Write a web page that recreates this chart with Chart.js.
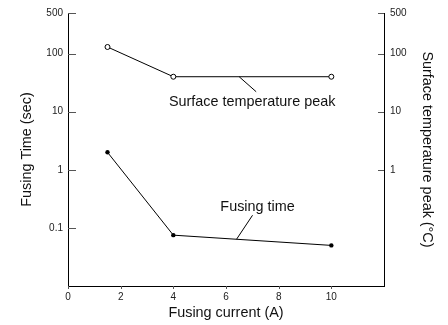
<!DOCTYPE html>
<html>
<head>
<meta charset="utf-8">
<script src="https://cdn.jsdelivr.net/npm/chart.js@4/dist/chart.umd.min.js"></script>
<style>
  html, body { margin: 0; padding: 0; background: #fff; }
  #chart { display: block; }
</style>
</head>
<body>
<canvas id="chart" width="448" height="325"></canvas>
<script>
var currents = [1.5, 4, 10];
var fusingTime = [2, 0.075, 0.05];
var tempPeak = [130, 40, 40];
var leftTicks = [0.1, 1, 10, 100, 500];
var rightTicks = [1, 10, 100, 500];
var xTicks = [0, 2, 4, 6, 8, 10];

var FONT = "'Liberation Sans', Arial, Helvetica, sans-serif";
var TEXT_SIZE = 14.4;

var toPoints = function(xs, ys) {
  return xs.map(function(x, i) { return {x: x, y: ys[i]}; });
};

var setTicks = function(values) {
  return function(scale) {
    scale.ticks = values.map(function(v) { return {value: v}; });
  };
};

var fixSize = function(size) {
  return function(scale) {
    if (scale.isHorizontal()) { scale.height = size; } else { scale.width = size; }
  };
};

var tickLabel = function(v) {
  return String(v);
};

// small inward tick marks, like the original plot
var tickMarks = {
  id: 'tickMarks',
  afterDraw: function(chart) {
    var ctx = chart.ctx, s = chart.scales;
    ctx.save();
    ctx.strokeStyle = '#555';
    ctx.lineWidth = 1;
    ctx.beginPath();
    s.y.ticks.forEach(function(t) {
      var py = Math.round(s.y.getPixelForValue(t.value)) + 0.5;
      ctx.moveTo(s.y.right, py);
      ctx.lineTo(s.y.right + 8, py);
    });
    s.y2.ticks.forEach(function(t) {
      var py = Math.round(s.y2.getPixelForValue(t.value)) + 0.5;
      ctx.moveTo(s.y2.left - 6, py);
      ctx.lineTo(s.y2.left, py);
    });
    s.x.ticks.forEach(function(t) {
      var px = Math.round(s.x.getPixelForValue(t.value)) + 0.5;
      ctx.moveTo(px, s.x.top);
      ctx.lineTo(px, s.x.top + 3);
    });
    ctx.stroke();
    ctx.restore();
  }
};

// text labels with leader lines pointing at the curves
var curveLabels = {
  id: 'curveLabels',
  afterDatasetsDraw: function(chart) {
    var ctx = chart.ctx, x = chart.scales.x, y = chart.scales.y, y2 = chart.scales.y2;
    ctx.save();
    ctx.strokeStyle = '#000';
    ctx.lineWidth = 1;
    ctx.fillStyle = '#111';
    ctx.font = TEXT_SIZE + 'px ' + FONT;
    ctx.textAlign = 'center';
    ctx.textBaseline = 'middle';

    // surface temperature peak
    var ax = x.getPixelForValue(6.5), ay = y2.getPixelForValue(tempPeak[1]);
    ctx.beginPath();
    ctx.moveTo(ax, ay);
    ctx.lineTo(ax + 17, ay + 15);
    ctx.stroke();
    ctx.fillText('Surface temperature peak', ax + 13, ay + 25);

    // fusing time, anchor on the segment between 2nd and 3rd point
    var p1x = x.getPixelForValue(currents[1]), p1y = y.getPixelForValue(fusingTime[1]);
    var p2x = x.getPixelForValue(currents[2]), p2y = y.getPixelForValue(fusingTime[2]);
    var bx = x.getPixelForValue(6.4);
    var by = p1y + (p2y - p1y) * (bx - p1x) / (p2x - p1x);
    ctx.beginPath();
    ctx.moveTo(bx, by);
    ctx.lineTo(bx + 16, by - 24);
    ctx.stroke();
    ctx.fillText('Fusing time', bx + 21, by - 32);
    ctx.restore();
  }
};

var ctx = document.getElementById('chart').getContext('2d');
new Chart(ctx, {
  type: 'line',
  data: {
    datasets: [
      {
        label: 'Surface temperature peak',
        data: toPoints(currents, tempPeak),
        yAxisID: 'y2',
        borderColor: '#000',
        borderWidth: 1,
        pointRadius: 2.5,
        pointBackgroundColor: '#fff',
        pointBorderColor: '#000',
        pointBorderWidth: 1,
        tension: 0
      },
      {
        label: 'Fusing time',
        data: toPoints(currents, fusingTime),
        yAxisID: 'y',
        borderColor: '#000',
        borderWidth: 1,
        pointRadius: 2.2,
        pointBackgroundColor: '#000',
        pointBorderColor: '#000',
        pointBorderWidth: 0,
        tension: 0
      }
    ]
  },
  options: {
    responsive: false,
    animation: false,
    layout: { padding: { top: 13, left: 0, right: 0, bottom: 0 } },
    plugins: { legend: { display: false }, tooltip: { enabled: false } },
    scales: {
      x: {
        type: 'linear',
        min: 0,
        max: 12,
        afterBuildTicks: setTicks(xTicks),
        afterFit: fixSize(39),
        grid: { display: false, drawTicks: false },
        border: { display: true, color: '#000', width: 1 },
        ticks: { color: '#222', padding: 5, font: { family: FONT, size: 10 }, maxRotation: 0, callback: tickLabel },
        title: { display: true, text: 'Fusing current (A)', color: '#111', font: { family: FONT, size: TEXT_SIZE }, padding: { top: 0, bottom: 3 } }
      },
      y: {
        type: 'logarithmic',
        position: 'left',
        min: 0.01,
        max: 500,
        afterBuildTicks: setTicks(leftTicks),
        afterFit: fixSize(68),
        grid: { display: false, drawTicks: false },
        border: { display: true, color: '#000', width: 1 },
        ticks: { color: '#222', padding: 5, font: { family: FONT, size: 10 }, callback: tickLabel },
        title: { display: true, text: 'Fusing Time (sec)', color: '#111', font: { family: FONT, size: TEXT_SIZE }, padding: { top: 18, bottom: 0 } }
      },
      y2: {
        type: 'logarithmic',
        position: 'right',
        min: 0.01,
        max: 500,
        afterBuildTicks: setTicks(rightTicks),
        afterFit: fixSize(64),
        grid: { display: false, drawTicks: false },
        border: { display: true, color: '#000', width: 1 },
        ticks: { color: '#222', padding: 6, font: { family: FONT, size: 10 }, callback: tickLabel },
        title: { display: true, text: 'Surface temperature peak (\u00B0C)', color: '#111', font: { family: FONT, size: TEXT_SIZE }, padding: { top: 12, bottom: 0 } }
      }
    }
  },
  plugins: [tickMarks, curveLabels]
});
</script>
</body>
</html>
